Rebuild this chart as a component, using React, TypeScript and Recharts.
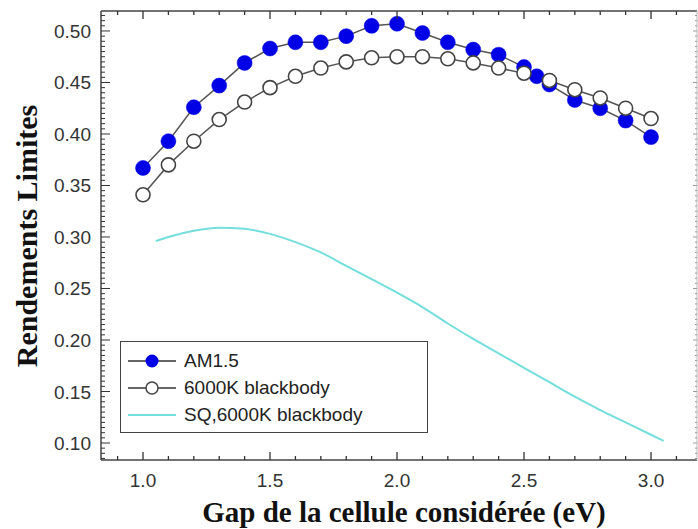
import { ComposedChart, Line, XAxis, YAxis } from "recharts";

// Gap (eV) and limiting efficiency
const GAP_AM15 = [1.0, 1.1, 1.2, 1.3, 1.4, 1.5, 1.6, 1.7, 1.8, 1.9, 2.0, 2.1, 2.2, 2.3, 2.4, 2.5, 2.55, 2.6, 2.7, 2.8, 2.9, 3.0];
const EFF_AM15 = [0.367, 0.393, 0.426, 0.447, 0.469, 0.483, 0.489, 0.489, 0.495, 0.505, 0.507, 0.498, 0.489, 0.482, 0.477, 0.465, 0.456, 0.448, 0.433, 0.425, 0.413, 0.397];

const GAP_BB = [1.0, 1.1, 1.2, 1.3, 1.4, 1.5, 1.6, 1.7, 1.8, 1.9, 2.0, 2.1, 2.2, 2.3, 2.4, 2.5, 2.6, 2.7, 2.8, 2.9, 3.0];
const EFF_BB = [0.341, 0.37, 0.393, 0.414, 0.431, 0.445, 0.456, 0.464, 0.47, 0.474, 0.475, 0.475, 0.473, 0.469, 0.464, 0.459, 0.452, 0.443, 0.435, 0.425, 0.415];

const GAP_SQ = [1.05, 1.1, 1.2, 1.3, 1.4, 1.5, 1.6, 1.7, 1.8, 1.9, 2.0, 2.1, 2.2, 2.3, 2.4, 2.5, 2.6, 2.7, 2.8, 2.9, 3.0, 3.05];
const EFF_SQ = [0.296, 0.3, 0.306, 0.309, 0.308, 0.303, 0.295, 0.285, 0.272, 0.259, 0.246, 0.232, 0.216, 0.201, 0.187, 0.173, 0.159, 0.145, 0.132, 0.12, 0.108, 0.102];

const SERIES_NAMES = ["AM1.5", "6000K blackbody", "SQ,6000K blackbody"];

const X_DOMAIN = [0.8346, 3.181];
const Y_DOMAIN = [0.0835, 0.5194];

// ticks every 0.1 on x (label every 0.5), every 0.005 on y (label every 0.05)
const X_TICKS = Array.from({ length: 23 }, (_, i) => +((i + 9) * 0.1).toFixed(1));
const Y_TICKS = Array.from({ length: 87 }, (_, i) => +((i + 17) * 0.005).toFixed(3));

const toRows = (xs: number[], ys: number[]) => xs.map((x, i) => ({ x, y: ys[i] }));
const amRows = toRows(GAP_AM15, EFF_AM15);
const bbRows = toRows(GAP_BB, EFF_BB);
const sqRows = toRows(GAP_SQ, EFF_SQ);

const BLUE = "#0000e6";
const CYAN = "#74dedc";
const FRAME = "#444";
const TICK = "#333";
const SANS = "'Liberation Sans', Arial, sans-serif";
const SERIF = "'Liberation Serif', 'Times New Roman', serif";

const isMajorX = (v: number) => Math.abs(v * 2 - Math.round(v * 2)) < 1e-6;
const isMajorY = (v: number) => Math.abs(v * 20 - Math.round(v * 20)) < 1e-6;

function BottomTick(props: any) {
  const { x, y, payload } = props;
  const major = isMajorX(payload.value);
  return (
    <g>
      <line x1={x} x2={x} y1={y} y2={y - (major ? 8 : 4)} stroke={TICK} strokeWidth={1.3} />
      {major && (
        <text x={x} y={y + 27} textAnchor="middle" fontSize={19} fontFamily={SANS} fill="#333">
          {payload.value.toFixed(1)}
        </text>
      )}
    </g>
  );
}

function TopTick(props: any) {
  const { x, y, payload } = props;
  const major = isMajorX(payload.value);
  return <line x1={x} x2={x} y1={y} y2={y + (major ? 8 : 4)} stroke={TICK} strokeWidth={1.3} />;
}

function LeftTick(props: any) {
  const { x, y, payload } = props;
  const major = isMajorY(payload.value);
  return (
    <g>
      <line x1={x} x2={x + (major ? 9 : 4)} y1={y} y2={y} stroke={TICK} strokeWidth={1} />
      {major && (
        <text x={x - 10} y={y + 7} textAnchor="end" fontSize={19} fontFamily={SANS} fill="#333">
          {payload.value.toFixed(2)}
        </text>
      )}
    </g>
  );
}

function RightTick(props: any) {
  const { x, y, payload } = props;
  const major = isMajorY(payload.value);
  return <line x1={x} x2={x - (major ? 4 : 2)} y1={y} y2={y} stroke="#999" strokeWidth={1} />;
}

function LegendBox() {
  const row = { display: "flex", alignItems: "center", height: 27 } as const;
  const text = { fontFamily: SANS, fontSize: 19, color: "#222", marginLeft: 8 };
  return (
    <div
      style={{
        position: "absolute",
        left: 120,
        top: 341,
        border: `1.5px solid ${FRAME}`,
        background: "#fff",
        boxSizing: "border-box",
        width: 308,
        height: 92,
        padding: "5px 0 0 7px",
      }}
    >
      <div style={row}>
        <svg width={48} height={16}>
          <line x1={0} x2={48} y1={8} y2={8} stroke="#333" strokeWidth={1.3} />
          <circle cx={24} cy={8} r={6.5} fill={BLUE} />
        </svg>
        <span style={text}>{SERIES_NAMES[0]}</span>
      </div>
      <div style={row}>
        <svg width={48} height={16}>
          <line x1={0} x2={48} y1={8} y2={8} stroke="#333" strokeWidth={1.3} />
          <circle cx={24} cy={8} r={6} fill="#fff" stroke="#444" strokeWidth={1.5} />
        </svg>
        <span style={text}>{SERIES_NAMES[1]}</span>
      </div>
      <div style={row}>
        <svg width={48} height={16}>
          <line x1={0} x2={48} y1={8} y2={8} stroke={CYAN} strokeWidth={2} />
        </svg>
        <span style={text}>{SERIES_NAMES[2]}</span>
      </div>
    </div>
  );
}

function Titles() {
  return (
    <svg width={698} height={529} style={{ position: "absolute", left: 0, top: 0, pointerEvents: "none" }}>
      <text x={404} y={522} textAnchor="middle" fontSize={29} fontWeight="bold" fontFamily={SERIF} fill="#111">
        Gap de la cellule considérée (eV)
      </text>
      <text
        x={37}
        y={236}
        transform="rotate(-90, 37, 236)"
        textAnchor="middle"
        fontSize={30}
        fontWeight="bold"
        fontFamily={SERIF}
        fill="#111"
      >
        Rendements Limites
      </text>
    </svg>
  );
}

export default function App() {
  return (
    <div style={{ position: "absolute", left: 0, top: 0, width: 698, height: 529, background: "#fff" }}>
      <ComposedChart width={698} height={529} margin={{ top: 10, right: 0, bottom: 0, left: 0 }}>
        <XAxis
          xAxisId="b"
          type="number"
          dataKey="x"
          domain={X_DOMAIN}
          allowDataOverflow
          ticks={X_TICKS}
          interval={0}
          height={69}
          tickSize={0}
          tickMargin={0}
          tickLine={false}
          axisLine={{ stroke: FRAME, strokeWidth: 1.5 }}
          tick={<BottomTick />}
        />
        <XAxis
          xAxisId="t"
          orientation="top"
          type="number"
          dataKey="x"
          domain={X_DOMAIN}
          allowDataOverflow
          ticks={X_TICKS}
          interval={0}
          height={1}
          tickSize={0}
          tickMargin={0}
          tickLine={false}
          axisLine={{ stroke: FRAME, strokeWidth: 1.5 }}
          tick={<TopTick />}
        />
        <YAxis
          yAxisId="l"
          type="number"
          domain={Y_DOMAIN}
          allowDataOverflow
          ticks={Y_TICKS}
          interval={0}
          width={101}
          tickSize={0}
          tickMargin={0}
          tickLine={false}
          axisLine={{ stroke: FRAME, strokeWidth: 1.5 }}
          tick={<LeftTick />}
        />
        <YAxis
          yAxisId="r"
          orientation="right"
          type="number"
          domain={Y_DOMAIN}
          allowDataOverflow
          ticks={Y_TICKS}
          interval={0}
          width={1}
          tickSize={0}
          tickMargin={0}
          tickLine={false}
          axisLine={{ stroke: "#bbb", strokeWidth: 1 }}
          tick={<RightTick />}
        />
        <Line
          data={sqRows}
          xAxisId="b"
          yAxisId="l"
          dataKey="y"
          type="monotone"
          stroke={CYAN}
          strokeWidth={2}
          dot={false}
          activeDot={false}
          isAnimationActive={false}
        />
        {/* invisible copies so the top and right frame axes get a domain */}
        <Line data={sqRows} xAxisId="t" yAxisId="l" dataKey="y" stroke="none" dot={false} activeDot={false} isAnimationActive={false} />
        <Line data={sqRows} xAxisId="b" yAxisId="r" dataKey="y" stroke="none" dot={false} activeDot={false} isAnimationActive={false} />
        <Line
          data={amRows}
          xAxisId="b"
          yAxisId="l"
          dataKey="y"
          type="linear"
          stroke="#555"
          strokeWidth={1.5}
          dot={{ r: 7.5, fill: BLUE, stroke: BLUE, strokeWidth: 0.5 }}
          activeDot={false}
          isAnimationActive={false}
        />
        <Line
          data={bbRows}
          xAxisId="b"
          yAxisId="l"
          dataKey="y"
          type="linear"
          stroke="#555"
          strokeWidth={1.5}
          dot={{ r: 7, fill: "#fff", stroke: "#444", strokeWidth: 1.6 }}
          activeDot={false}
          isAnimationActive={false}
        />
      </ComposedChart>
      <LegendBox />
      <Titles />
    </div>
  );
}
